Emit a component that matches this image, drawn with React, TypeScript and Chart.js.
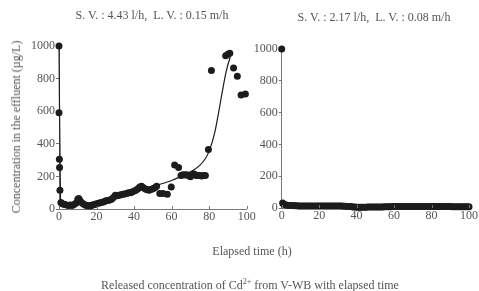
import React, { useEffect, useRef } from "react";
import { Chart, registerables } from "chart.js";

Chart.register(...registerables);

const panelTitles = ["S. V. : 4.43 l/h,  L. V. : 0.15 m/h", "S. V. : 2.17 l/h,  L. V. : 0.08 m/h"];
const yAxisTitle = "Concentration in the effluent (µg/L)";
const xAxisTitle = "Elapsed time (h)";
const xTicks = [0, 20, 40, 60, 80, 100];
const yTicks = [0, 200, 400, 600, 800, 1000];

// Left panel (S.V. 4.43 l/h): measured points
const leftTime = [
  0, 0, 0.2, 0.3, 0.5, 1, 1.5, 2, 3, 4, 5, 6, 7, 8, 9, 10, 10.5, 11, 12, 13, 14, 15, 16, 17, 18, 19, 20,
  21, 22, 23, 24, 25, 26, 27, 28, 29, 30, 31, 32, 33, 34, 35, 36, 37, 38, 39, 40, 41, 42, 43, 44, 45,
  46, 47, 48, 49, 50, 51, 52, 53.7, 55.4, 57.7, 59.8, 61.6, 63.7, 65, 66, 67, 68, 69, 70, 71, 72, 73,
  74, 75, 76, 77, 78, 79.6, 81.2, 88.8, 90, 91, 93, 95, 97, 99.3,
];
const leftConc = [
  1000, 590, 305, 255, 115, 40, 35, 30, 28, 25, 22, 25, 22, 28, 35, 60, 65, 55, 40, 30, 25, 20, 18, 20, 25, 28, 32,
  35, 38, 42, 45, 50, 52, 55, 60, 70, 85, 82, 85, 88, 90, 92, 95, 100, 100, 105, 110, 115, 125, 135, 140, 130,
  122, 118, 115, 120, 125, 130, 140, 95, 95, 90, 135, 270, 255, 205, 210, 208, 210, 205, 198, 210, 215, 205,
  205, 205, 202, 205, 205, 365, 850, 940, 950, 955, 865, 815, 700, 705,
];
// Left panel fitted curve
const fitTime = [0, 0.8, 2, 5, 10, 20, 30, 40, 50, 60, 65, 70, 75, 78, 80, 83, 85, 87, 89, 91, 92];
const fitConc = [1000, 60, 30, 25, 28, 45, 75, 110, 140, 175, 200, 228, 268, 310, 355, 470, 590, 720, 840, 925, 955];

// Right panel (S.V. 2.17 l/h): measured points
const rightTime = [
  0, 0.5, 1, 2, 3, 4, 5, 6, 7, 8, 9, 10, 11, 12, 13, 14, 15, 16, 17, 18, 19, 20, 21, 22, 23, 24, 25, 26, 27,
  28, 29, 30, 31, 32, 33, 34, 35, 36, 37, 38, 39, 40, 41, 42, 43, 44, 45, 46, 47, 48, 49, 50, 51, 52, 53, 54,
  55, 56, 57, 58, 59, 60, 61, 62, 63, 64, 65, 66, 67, 68, 69, 70, 71, 72, 73, 74, 75, 76, 77, 78, 79, 80, 81,
  82, 83, 84, 85, 86, 87, 88, 89, 90, 91, 92, 93, 94, 95, 96, 97, 98, 99, 100,
];
const rightConc = [
  1000, 32, 25, 20, 18, 16, 15, 15, 14, 14, 13, 13, 13, 12, 12, 12, 12, 12, 12, 12, 12, 12, 12, 12, 12, 12, 12, 12, 12,
  12, 12, 12, 12, 12, 11, 11, 10, 10, 9, 7, 6, 5, 5, 5, 5, 5, 5, 6, 6, 6, 6, 6, 7, 7, 7, 7,
  8, 8, 8, 8, 9, 9, 9, 9, 9, 9, 9, 9, 9, 9, 10, 10, 10, 10, 10, 10, 10, 9, 9, 9, 9, 9, 9,
  9, 9, 9, 9, 9, 9, 9, 9, 9, 8, 8, 8, 8, 8, 8, 8, 8, 8, 8,
];

const FONT = "'Liberation Serif', 'DejaVu Serif', serif";
const TEXT = "#555";
const AXIS = "#777";
const MARK = "#1c1c1c";

const inwardTicks = {
  id: "inwardTicks",
  afterDraw(chart: any) {
    const xs = chart.scales.x;
    const { ctx, chartArea } = chart;
    ctx.save();
    ctx.strokeStyle = AXIS;
    ctx.lineWidth = 1;
    xs.ticks.forEach((t: any) => {
      const px = Math.round(xs.getPixelForValue(t.value)) + 0.5;
      ctx.beginPath();
      ctx.moveTo(px, chartArea.bottom);
      ctx.lineTo(px, chartArea.bottom - 3);
      ctx.stroke();
    });
    ctx.restore();
  },
};

function pts(xs: number[], ys: number[]) {
  return xs.map((x, i) => ({ x, y: ys[i] }));
}

function makeConfig(datasets: any[], pad: any) {
  return {
    type: "scatter",
    data: { datasets },
    plugins: [inwardTicks],
    options: {
      animation: false,
      responsive: false,
      maintainAspectRatio: false,
      events: [],
      layout: { padding: pad },
      plugins: { legend: { display: false }, tooltip: { enabled: false }, title: { display: false } },
      scales: {
        x: {
          type: "linear",
          min: 0,
          max: 100,
          afterBuildTicks: (s: any) => {
            s.ticks = xTicks.map((v) => ({ value: v }));
          },
          afterFit: (s: any) => {
            s.height = 20;
          },
          ticks: {
            color: TEXT,
            font: { family: FONT, size: 12 },
            padding: 1,
            maxRotation: 0,
            callback: (v: any) => String(v),
          },
          grid: { display: true, drawOnChartArea: false, drawTicks: false },
          border: { display: true, color: AXIS, width: 1 },
        },
        y: {
          type: "linear",
          min: 0,
          max: 1000,
          afterBuildTicks: (s: any) => {
            s.ticks = yTicks.map((v) => ({ value: v }));
          },
          afterFit: (s: any) => {
            s.width = 40;
          },
          ticks: { color: TEXT, font: { family: FONT, size: 12 }, padding: 1, callback: (v: any) => String(v) },
          grid: { display: true, drawOnChartArea: false, drawTicks: true, tickLength: 3, color: AXIS },
          border: { display: true, color: AXIS, width: 1 },
        },
      },
    },
  };
}

export default function App() {
  const leftRef = useRef<HTMLCanvasElement>(null);
  const rightRef = useRef<HTMLCanvasElement>(null);

  useEffect(() => {
    const left = new Chart(
      leftRef.current as any,
      makeConfig(
        [
          {
            data: pts(fitTime, fitConc),
            showLine: true,
            borderColor: MARK,
            borderWidth: 1.2,
            pointRadius: 0,
            cubicInterpolationMode: "monotone",
            clip: false,
          },
          {
            data: pts(leftTime, leftConc),
            showLine: false,
            backgroundColor: MARK,
            borderColor: MARK,
            pointRadius: 3.5,
            borderWidth: 0,
            clip: false,
          },
        ],
        { left: 19, right: 232.3, top: 46, bottom: 62 }
      ) as any
    );
    const right = new Chart(
      rightRef.current as any,
      makeConfig(
        [
          {
            data: pts(rightTime, rightConc),
            showLine: false,
            backgroundColor: MARK,
            borderColor: MARK,
            pointRadius: 3.5,
            borderWidth: 0,
            clip: false,
          },
        ],
        { left: 241.7, right: 9, top: 49, bottom: 63 }
      ) as any
    );
    return () => {
      left.destroy();
      right.destroy();
    };
  }, []);

  const abs: React.CSSProperties = { position: "absolute", left: 0, top: 0 };
  const text: React.CSSProperties = {
    position: "absolute",
    fontFamily: FONT,
    color: TEXT,
    fontSize: 12,
    whiteSpace: "pre",
    lineHeight: "14px",
    transform: "translate(-50%, -50%)",
  };

  return (
    <div>
      <canvas ref={leftRef} width={479} height={291} style={{ ...abs, width: 479, height: 291 }} />
      <canvas ref={rightRef} width={479} height={291} style={{ ...abs, width: 479, height: 291 }} />
      <div style={{ ...text, left: 152, top: 15 }}>{panelTitles[0]}</div>
      <div style={{ ...text, left: 374, top: 17 }}>{panelTitles[1]}</div>
      <div style={{ ...text, left: 16, top: 127, transform: "translate(-50%, -50%) rotate(-90deg)" }}>{yAxisTitle}</div>
      <div style={{ ...text, left: 252, top: 251 }}>{xAxisTitle}</div>
      <div style={{ ...text, left: 250, top: 285 }}>
        Released concentration of Cd<sup style={{ fontSize: 8, lineHeight: 0 }}>2+</sup> from V-WB with elapsed time
      </div>
    </div>
  );
}
